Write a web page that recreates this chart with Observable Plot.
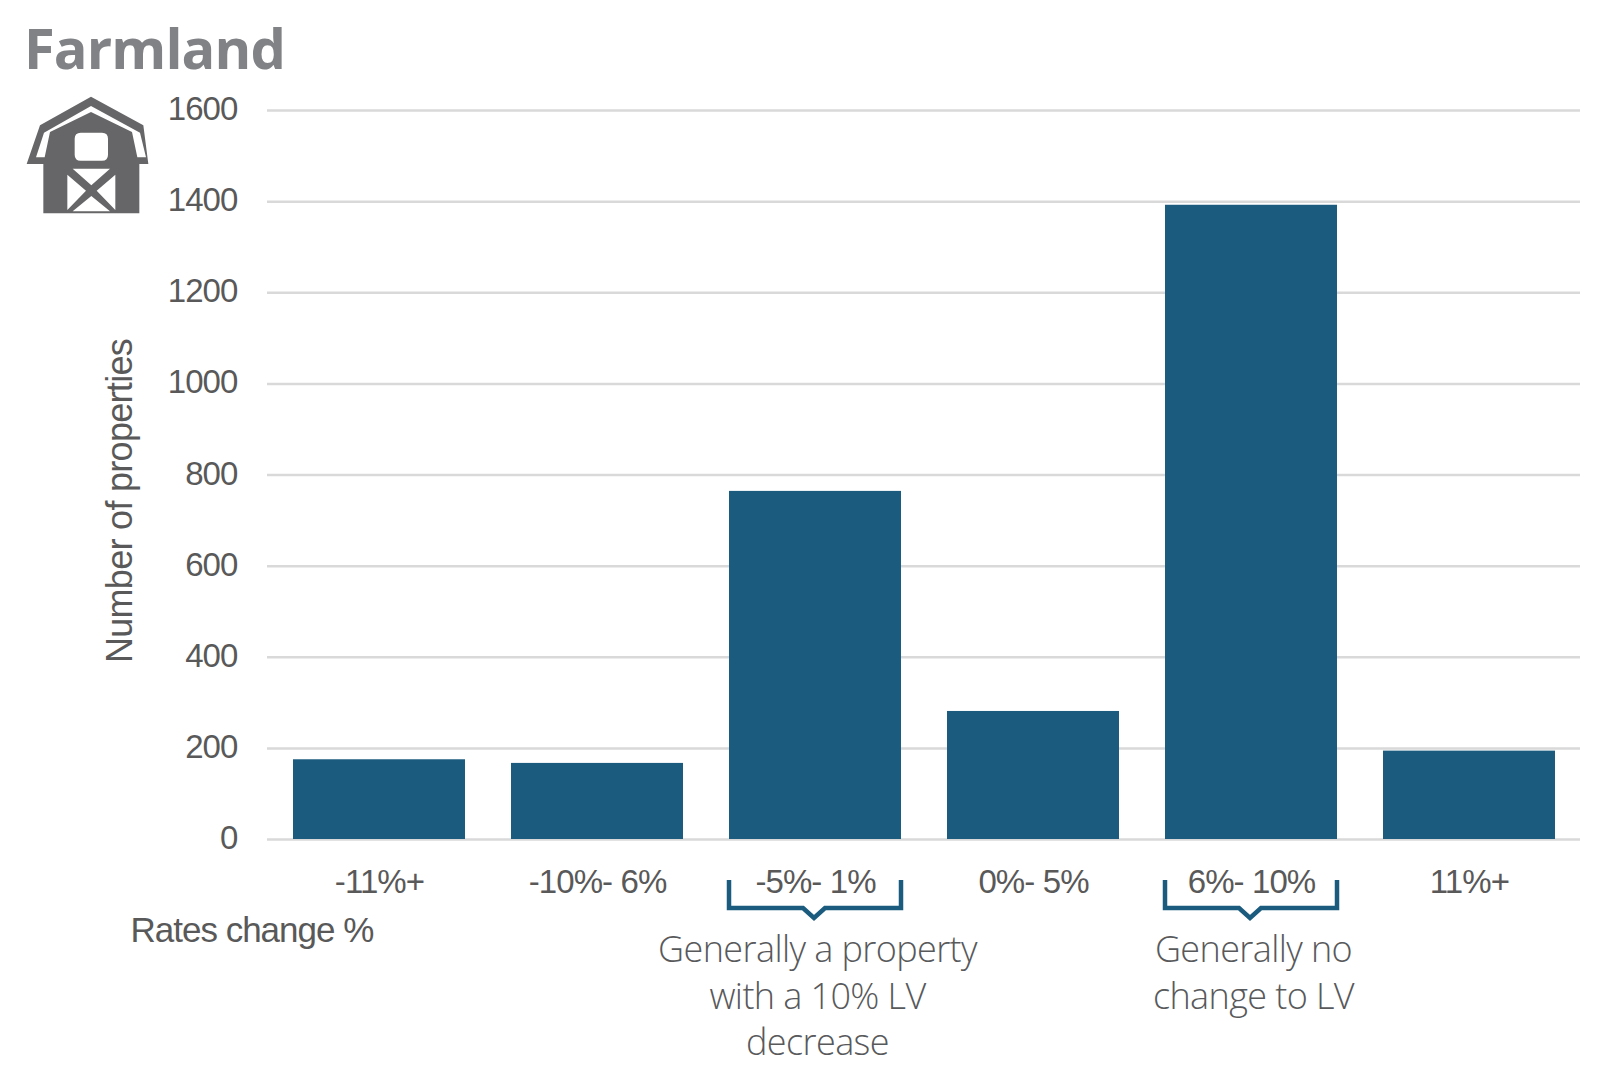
<!DOCTYPE html>
<html><head><meta charset="utf-8">
<script src="https://cdn.jsdelivr.net/npm/d3@7"></script>
<script src="https://cdn.jsdelivr.net/npm/@observablehq/plot@0.6"></script>
<style>
html,body{margin:0;padding:0;background:#fff;}
#wrap{position:relative;width:1600px;height:1092px;overflow:hidden;}
#title{position:absolute;left:24px;top:9px;font:700 56px "Open Sans",sans-serif;color:#808285;letter-spacing:-0.9px;line-height:76px;margin:0;}
#barn{position:absolute;left:0;top:0;width:300px;height:230px;}
.tick-text{letter-spacing:-0.9px;}
.y-title{letter-spacing:-0.7px;}
.x-title{letter-spacing:-1px;}
.note{letter-spacing:-0.6px;}
</style></head><body>
<div id="wrap">
<div id="chart"></div>
<h1 id="title">Farmland</h1>
<svg id="barn" viewBox="0 0 900 690">
<path fill="#666567" fill-rule="evenodd" d="M273 290L430 376L445 492L418 492L418 640L130 640L130 492L80 492L120 376ZM273 318L132 398L108 472L134 472L150 396L273 336L396 396L412 472L438 472L420 398ZM242 398Q224 398 224 416L224 464Q224 482 242 482L306 482Q324 482 324 464L324 416Q324 398 306 398ZM218 506L274 556L330 506ZM346 524L290 572L346 630ZM202 524L202 630L258 572ZM218 634L330 634L274 588Z"/>
</svg>
</div>
<script>
const categories = ["-11%+", "-10%- 6%", "-5%- 1%", "0%- 5%", "6%- 10%", "11%+"];
const properties = [175, 167, 764, 281, 1392, 194];
const yTicks = [0, 200, 400, 600, 800, 1000, 1200, 1400, 1600];
const notes = [
  {category: "-5%- 1%", text: "Generally a property\nwith a 10% LV\ndecrease"},
  {category: "6%- 10%", text: "Generally no\nchange to LV"}
];
const rows = categories.map((category, i) => ({category, value: properties[i]}));
const blue = "#1b5c7e";
const bracket = (cats) => (index, {x}, channels, dims, ctx) => {
  const g = d3.select(ctx.document.createElementNS("http://www.w3.org/2000/svg", "g"));
  const y0 = dims.height - dims.marginBottom;
  for (const c of cats) {
    const a = x(c), b = a + x.bandwidth(), m = (a + b) / 2 - 1;
    g.append("path")
      .attr("fill", "none").attr("stroke", blue).attr("stroke-width", 4.5)
      .attr("d", `M${a} ${y0 + 41}V${y0 + 69}H${m - 11}L${m} ${y0 + 79}L${m + 11} ${y0 + 69}H${b}V${y0 + 41}`);
  }
  return g.node();
};
const plot = Plot.plot({
  width: 1600, height: 1092,
  marginTop: 110, marginBottom: 253, marginLeft: 267, marginRight: 20,
  style: {fontFamily: "'Liberation Sans',Arial,sans-serif", background: "transparent", overflow: "visible"},
  x: {domain: categories, paddingInner: 0.213, paddingOuter: 0.105, align: 0.5, label: null},
  y: {domain: [0, 1600], label: null},
  marks: [
    Plot.ruleY(yTicks, {stroke: "#d9d9d9", strokeWidth: 2.5}),
    Plot.barY(rows, {x: "category", y: "value", fill: blue}),
    Plot.axisY({ticks: yTicks, tickSize: 0, tickPadding: 30, tickFormat: d => String(d), fontSize: 33, color: "#595959", label: null, className: "tick-text", dy: -1}),
    Plot.axisX({tickSize: 0, tickPadding: 30, fontSize: 33, color: "#595959", label: null, className: "tick-text"}),
    Plot.text(["Number of properties"], {frameAnchor: "left", textAnchor: "middle", rotate: -90, dx: -147, dy: 26, fontSize: 36, fill: "#595959", className: "y-title"}),
    Plot.text(["Rates change %"], {frameAnchor: "bottom-left", textAnchor: "start", dx: -137, dy: 102, fontSize: 35, fill: "#595959", className: "x-title"}),
    bracket(["-5%- 1%", "6%- 10%"]),
    Plot.text(notes, {x: "category", text: "text", frameAnchor: "bottom", lineAnchor: "top", dx: 2, dy: 89, fontSize: 36, lineHeight: 1.3, fill: "#58595b", fontWeight: 300, fontFamily: "Open Sans", className: "note"})
  ]
});
document.getElementById("chart").appendChild(plot);
</script>
</body></html>
